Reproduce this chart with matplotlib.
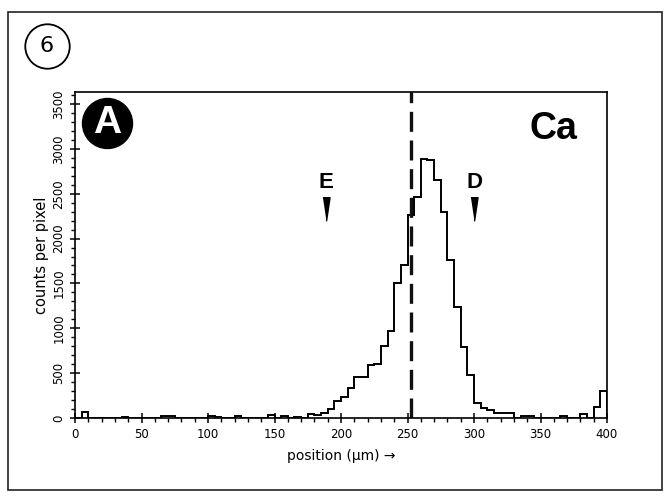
import matplotlib
matplotlib.use('Agg')
import matplotlib.pyplot as plt
import matplotlib.patches as patches
from matplotlib.lines import Line2D
from matplotlib.ticker import MultipleLocator
import numpy as np

# Ca line scan, 5 um bins from 0 to 400 um
bin_edges = np.arange(0, 405, 5)
counts = [
    0, 65, 0, 0, 0, 0, 0, 10, 0, 0,
    0, 0, 0, 25, 20, 0, 0, 0, 0, 0,
    25, 15, 0, 0, 20, 0, 0, 0, 0, 35,
    0, 20, 0, 10, 0, 50, 35, 60, 105, 185,
    230, 335, 455, 460, 595, 605, 800, 975, 1510, 1700,
    2260, 2460, 2890, 2880, 2650, 2300, 1765, 1240, 795, 480,
    165, 115, 85, 55, 55, 55, 0, 25, 20, 0,
    0, 0, 0, 18, 0, 0, 40, 0, 120, 300,
]
x_ticks = [0, 50, 100, 150, 200, 250, 300, 350, 400]
y_ticks = [0, 500, 1000, 1500, 2000, 2500, 3000, 3500]
boundary_x = 252.5
markers = {'E': 189, 'D': 300}

W, H = 671, 498
fig = plt.figure(figsize=(W / 100, H / 100), dpi=100)
fig.patch.set_facecolor('white')

# outer frame of the figure panel
fig.add_artist(patches.Rectangle((8 / W, 1 - 490 / H), (662 - 8) / W, (490 - 12) / H,
                                 transform=fig.transFigure, fill=False,
                                 edgecolor='#222222', linewidth=1.2))
# panel number "6" in a circle
fig.add_artist(Line2D([47 / W], [1 - 46 / H], transform=fig.transFigure,
                      marker='o', markersize=32, markerfacecolor='white',
                      markeredgecolor='black', markeredgewidth=1.3))
fig.text(47 / W, 1 - 46 / H, '6', ha='center', va='center', fontsize=16,
         family='DejaVu Sans Condensed')

ax = fig.add_axes([75 / W, 1 - 418 / H, (607 - 75) / W, (418 - 92) / H])
ax.stairs(counts, bin_edges, color='black', linewidth=1.4)
ax.axvline(boundary_x, color='#111111', linewidth=2.4, dashes=(6, 2.6))

ax.set_xlim(0, 400)
ax.set_ylim(0, 3634)
ax.set_xticks(x_ticks)
ax.set_yticks(y_ticks)
ax.xaxis.set_minor_locator(MultipleLocator(10))
ax.yaxis.set_minor_locator(MultipleLocator(100))
ax.tick_params(which='major', direction='inout', length=7, width=1.1, labelsize=8.5)
ax.tick_params(which='minor', direction='out', length=3, width=1.0)
for lbl in ax.get_yticklabels():
    lbl.set_rotation(90)
    lbl.set_va('center')
for s in ax.spines.values():
    s.set_linewidth(1.2)

ax.set_xlabel('position (\u00b5m) \u2192', fontsize=10, labelpad=6)
ax.set_ylabel('counts per pixel', fontsize=10.5, labelpad=2)

# panel letter A in black disc
ax.plot([0.06], [0.905], transform=ax.transAxes, marker='o', markersize=36,
        color='black', clip_on=False)
ax.text(0.06, 0.905, 'A', transform=ax.transAxes, ha='center', va='center',
        color='white', fontsize=28, fontweight='bold', family='Liberation Sans')

ax.text(0.90, 0.885, 'Ca', transform=ax.transAxes, ha='center', va='center',
        fontsize=27, fontweight='bold', family='Liberation Sans')

tri = [(-0.15, 0.5), (0.15, 0.5), (0, -0.5)]
for name, xpos in markers.items():
    ax.text(xpos, 2620, name, ha='center', va='center', fontsize=16,
            fontweight='bold', family='Liberation Sans')
    ax.plot([xpos], [2330], marker=tri, markersize=17, color='black')

plt.savefig('out.png', dpi=100)
plt.close(fig)
